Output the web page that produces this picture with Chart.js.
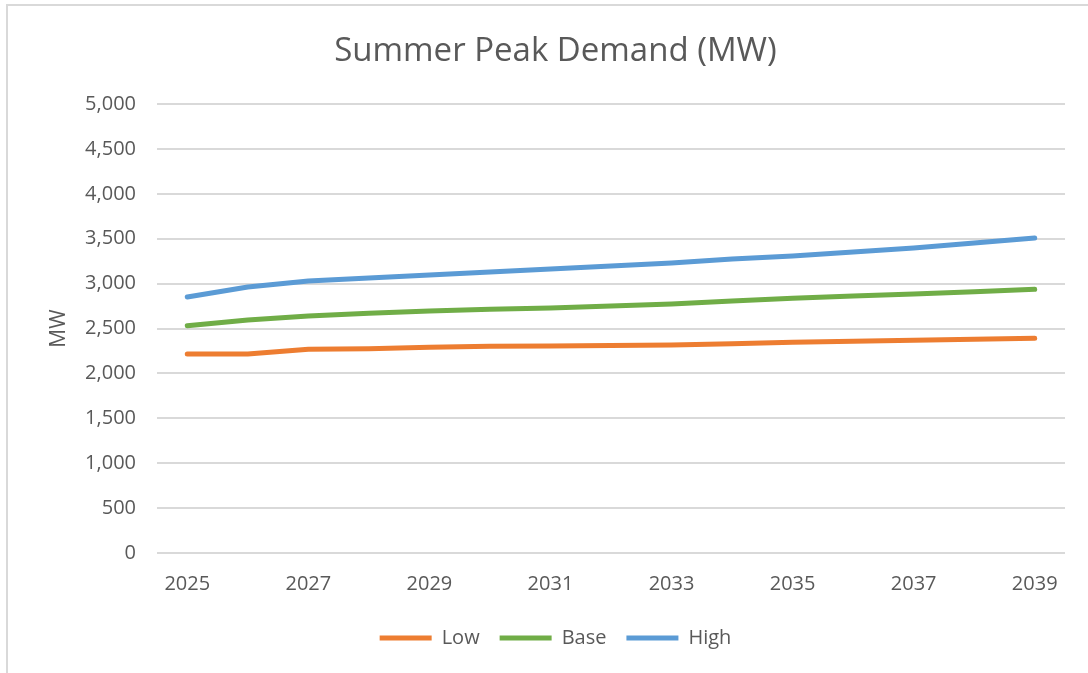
<!DOCTYPE html>
<html>
<head>
<meta charset="utf-8">
<script src="https://cdn.jsdelivr.net/npm/chart.js@4.4.1/dist/chart.umd.min.js"></script>
<style>
  html, body { margin: 0; padding: 0; background: #ffffff; }
  #frame { position: absolute; left: 6px; top: 4px; width: 1100px; height: 700px;
           border-left: 2px solid #d9d9d9; border-top: 2px solid #d9d9d9; }
  #wrap { position: absolute; left: 0; top: 0; width: 1088px; height: 673px; }
</style>
</head>
<body>
<div id="frame"></div>
<div id="wrap"><canvas id="c" width="1088" height="673"></canvas></div>
<script>
const years = ['2025','2026','2027','2028','2029','2030','2031','2032','2033','2034','2035','2036','2037','2038','2039'];
const lowValues  = [2216, 2216, 2270, 2275, 2290, 2302, 2305, 2312, 2316, 2331, 2346, 2357, 2368, 2380, 2391];
const baseValues = [2531, 2595, 2639, 2669, 2695, 2714, 2728, 2751, 2773, 2806, 2836, 2862, 2884, 2910, 2936];
const highValues = [2851, 2962, 3029, 3062, 3096, 3129, 3163, 3196, 3229, 3274, 3307, 3352, 3396, 3452, 3508];
const seriesNames = ['Low', 'Base', 'High'];
const seriesColors = ['#ED7D31', '#70AD47', '#5B9BD5'];
const yTicks = { min: 0, max: 5000, step: 500 };

const FONT = "'Open Sans', 'Liberation Sans', sans-serif";
const GRAY = '#595959';

function ds(name, data, color) {
  return {
    label: name, data: data,
    borderColor: color, backgroundColor: color,
    borderWidth: 5, borderCapStyle: 'round', borderJoinStyle: 'round',
    pointRadius: 0, pointHoverRadius: 0, tension: 0, fill: false
  };
}

new Chart(document.getElementById('c'), {
  type: 'line',
  data: {
    labels: years,
    datasets: [
      ds(seriesNames[0], lowValues, seriesColors[0]),
      ds(seriesNames[1], baseValues, seriesColors[1]),
      ds(seriesNames[2], highValues, seriesColors[2])
    ]
  },
  options: {
    responsive: false,
    animation: false,
    events: [],
    layout: { padding: { left: 46, right: 23, top: 0, bottom: 15 } },
    plugins: {
      title: {
        display: true, text: 'Summer Peak Demand (MW)', color: GRAY,
        font: { family: FONT, size: 33, weight: 'normal' },
        padding: { top: 32, bottom: 32.4 }
      },
      legend: {
        position: 'bottom',
        labels: {
          color: GRAY, font: { family: FONT, size: 20 },
          boxWidth: 52, boxHeight: 5, padding: 20,
          generateLabels: (chart) => Chart.defaults.plugins.legend.labels.generateLabels(chart)
            .map(l => Object.assign(l, { lineWidth: 0 }))
        }
      },
      tooltip: { enabled: false }
    },
    scales: {
      x: {
        offset: true,
        grid: { display: false, drawTicks: false },
        border: { display: false },
        ticks: {
          color: GRAY, font: { family: FONT, size: 20 },
          autoSkip: false, maxRotation: 0, padding: 19,
          callback: function(v, i) { return i % 2 === 0 ? this.getLabelForValue(v) : ''; }
        },
        afterFit: (s) => { s.height = s.height - 7; }
      },
      y: {
        min: yTicks.min, max: yTicks.max,
        grid: { color: '#d9d9d9', lineWidth: 2, drawTicks: false },
        border: { display: false },
        ticks: {
          stepSize: yTicks.step, color: GRAY, font: { family: FONT, size: 20 }, padding: 21,
          callback: (v) => v.toLocaleString('en-US')
        },
        title: {
          display: true, text: 'MW', color: GRAY,
          font: { family: FONT, size: 21 }, padding: 0
        },
        afterFit: (s) => { s.width = 157 - 46; }
      }
    }
  }
});
</script>
</body>
</html>
